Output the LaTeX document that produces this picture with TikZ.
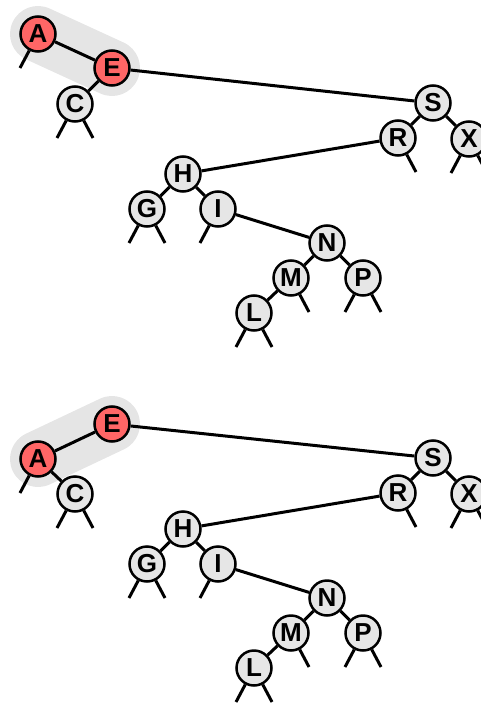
\documentclass[tikz,border=0pt]{standalone}
\usepackage{fontspec}
\setmainfont{Liberation Sans}
\usetikzlibrary{calc,backgrounds}
\definecolor{nodegray}{RGB}{230,230,230}
\definecolor{linkred}{RGB}{255,102,102}
\definecolor{glowgray}{RGB}{229,229,229}

\begin{document}
\begin{tikzpicture}[x=1pt, y=-1pt,
    key/.style={circle, draw, line width=2.5pt, fill=nodegray, minimum size=35pt,
                inner sep=0pt, font=\fontsize{26}{26}\selectfont\bfseries},
    redkey/.style={key, fill=linkred},
    link/.style={line width=3pt},
    glow/.style={draw=glowgray, line width=56pt, line cap=round}]

    \useasboundingbox (0,0) rectangle (481,703);

    % upper tree: A on top, red link down to E
    \node[redkey] (tA) at (38,34) {A};
    \node[redkey] (tE) at (112,68) {E};
    \node[key] (tC) at (75,104) {C};

    % lower tree: E on top after the left rotation
    \node[redkey] (bE) at (112,424) {E};
    \node[redkey] (bA) at (38,459) {A};
    \node[key] (bC) at (75,494) {C};

    % the S subtree is the same in both
    \foreach \t/\dy in {t/0, b/355} {
        \node[key] (\t S) at (433,103+\dy) {S};
        \node[key] (\t R) at (398,138+\dy) {R};
        \node[key] (\t X) at (469,139+\dy) {X};
        \node[key] (\t H) at (183,174+\dy) {H};
        \node[key] (\t G) at (147,209+\dy) {G};
        \node[key] (\t I) at (218,209+\dy) {I};
        \node[key] (\t N) at (327,243+\dy) {N};
        \node[key] (\t M) at (291,278+\dy) {M};
        \node[key] (\t P) at (363,278+\dy) {P};
        \node[key] (\t L) at (254,313+\dy) {L};

        \draw[link] (\t S) -- (\t R);
        \draw[link] (\t S) -- (\t X);
        \draw[link] (\t R) -- (\t H);
        \draw[link] (\t H) -- (\t G);
        \draw[link] (\t H) -- (\t I);
        \draw[link] (\t I) -- (\t N);
        \draw[link] (\t N) -- (\t M);
        \draw[link] (\t N) -- (\t P);
        \draw[link] (\t M) -- (\t L);

        % null links
        \foreach \n/\d in {A/-1, C/-1, C/1, R/1, X/-1, X/1, G/-1, G/1,
                           I/-1, M/1, P/-1, P/1, L/-1, L/1} {
            \coordinate (\t\n\d) at ($(\t\n)+(\d*18,34)$);
            \draw[link] (\t\n) -- (\t\n\d);
        }
    }

    \draw[link] (tA) -- (tE);
    \draw[link] (tE) -- (tC);
    \draw[link] (tE) -- (tS);

    \draw[link] (bE) -- (bA);
    \draw[link] (bA) -- (bC);
    \draw[link] (bE) -- (bS);

    % grey band behind the red link
    \begin{pgfonlayer}{background}
        \draw[glow] (tA.center) -- (tE.center);
        \draw[glow] (bA.center) -- (bE.center);
    \end{pgfonlayer}

\end{tikzpicture}
\end{document}
